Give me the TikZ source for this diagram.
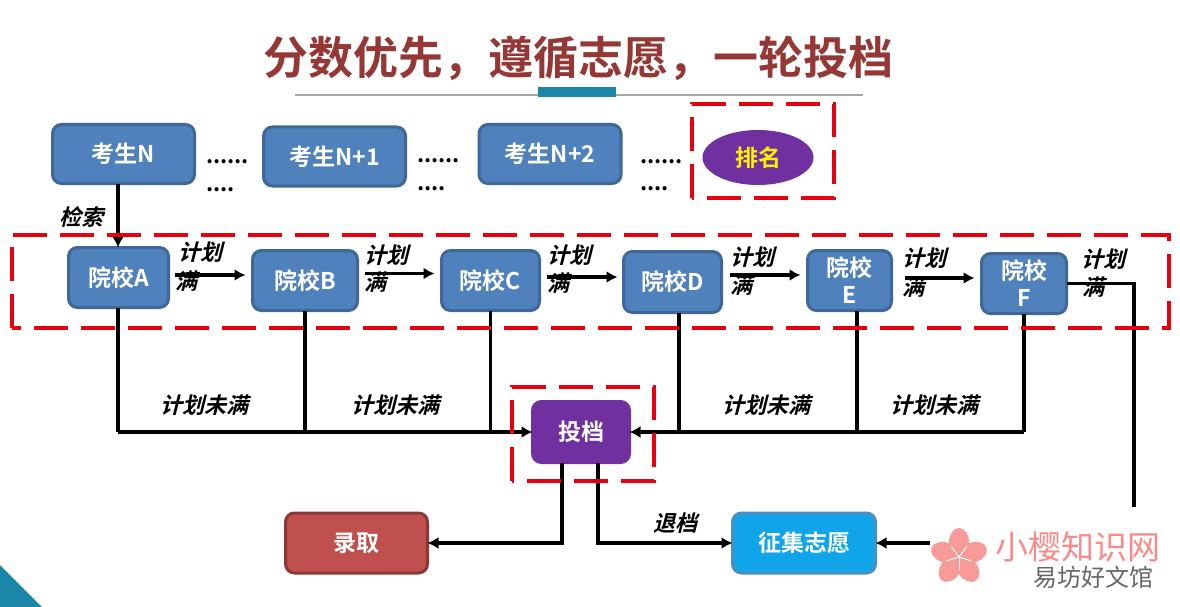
\documentclass[tikz,border=0pt]{standalone}
\usepackage{fontspec}
\newfontfamily\cjk{Noto Sans CJK SC}[BoldFont=* Bold]
\newfontfamily\cjkit{Noto Sans CJK SC}[BoldFont=* Bold,FakeSlant=0.25]
\usepackage{xcolor}
\usepackage{tikz}
\usetikzlibrary{positioning,shapes,arrows.meta}
\definecolor{titlered}{HTML}{953735}
\definecolor{boxblue}{HTML}{4F81BD}
\definecolor{boxedge}{HTML}{3F6797}
\definecolor{boxpurple}{HTML}{7030A0}
\definecolor{boxred}{HTML}{C0504D}
\definecolor{rededge}{HTML}{8C3836}
\definecolor{boxcyan}{HTML}{0FA5E8}
\definecolor{cyanedge}{HTML}{4A8FC4}
\definecolor{teal}{HTML}{1A87A8}
\definecolor{dashred}{HTML}{E8000F}
\definecolor{petal}{HTML}{F79A98}
\tikzset{
    blockbox/.style={draw=boxedge,fill=boxblue,line width=3pt,rounded corners=9pt,inner sep=0pt,outer sep=0pt,
        align=center,text=white,font=\cjk\bfseries\fontsize{23}{27}\selectfont},
    flow/.style={black,line width=3.6pt,-{Latex[length=11pt,width=12pt]}},
    wire/.style={black,line width=3.6pt},
    note/.style={inner sep=0pt,text=black,font=\cjkit\bfseries\fontsize{22}{24}\selectfont},
    more/.style={inner sep=0pt,anchor=base west,text=black,font=\cjk\bfseries\fontsize{22}{24}\selectfont},
    redbox/.style={dashred,line width=4pt,dash pattern=on 34pt off 13pt}
}
\begin{document}
\begin{tikzpicture}[x=1pt,y=-1pt]
    \useasboundingbox (0,0) rectangle (1180,607);
    \fill[teal] (0,565) -- (42,607) -- (0,607) -- cycle;
    % title
    \node[inner sep=0pt,text=titlered,font=\cjk\bfseries\fontsize{45}{50}\selectfont] (title) at (578,58) {分数优先，遵循志愿，一轮投档};
    \draw[gray!70,line width=2pt] (295,95) -- (863,95);
    \fill[teal] (538,87) rectangle (616,97);
    % row 1
    \node[blockbox,minimum width=142pt,minimum height=59pt] (examN) at (123.5,154) {考生N};
    \node[blockbox,minimum width=142pt,minimum height=59pt] (examNa) at (334.5,156.5) {考生N+1};
    \node[blockbox,minimum width=142pt,minimum height=59pt] (examNb) at (550,154) {考生N+2};
    \node[ellipse,fill=boxpurple,inner sep=0pt,minimum width=111pt,minimum height=55pt,text=yellow,font=\cjk\bfseries\fontsize{23}{24}\selectfont] (rank) at (758,157.5) {排名};
    \node[more] (dotsa) at (206,163) {......};
    \node[more] (dotsb) at (206,191) {....};
    \node[more] (dotsc) at (417,162) {......};
    \node[more] (dotsd) at (417,190) {....};
    \node[more] (dotse) at (640,163) {......};
    \node[more] (dotsf) at (640,190) {....};
    % row 2
    \node[blockbox,minimum width=100pt,minimum height=60pt] (schoolA) at (118.5,277.5) {院校A};
    \node[blockbox,minimum width=105pt,minimum height=60pt] (schoolB) at (305,280.5) {院校B};
    \node[blockbox,minimum width=98pt,minimum height=60pt] (schoolC) at (490.5,280.5) {院校C};
    \node[blockbox,minimum width=98pt,minimum height=61pt] (schoolD) at (672.5,282) {院校D};
    \node[blockbox,minimum width=84pt,minimum height=60pt] (schoolE) at (849.5,280.5) {院校\\E};
    \node[blockbox,minimum width=85pt,minimum height=60pt] (schoolF) at (1024,283.5) {院校\\F};
    % bottom
    \node[blockbox,draw=boxpurple,fill=boxpurple,minimum width=97pt,minimum height=61pt] (toudang) at (581,432) {投档};
    \node[blockbox,draw=rededge,fill=boxred,minimum width=142pt,minimum height=60pt] (luqu) at (356.5,543) {录取};
    \node[blockbox,draw=cyanedge,fill=boxcyan,minimum width=143pt,minimum height=60pt] (zhengji) at (804,543) {征集志愿};
    % free ends
    \coordinate (ab) at (175,275);
    \coordinate (bc) at (365,273.5);
    \coordinate (cd) at (547,277);
    \coordinate (de) at (730,275);
    \coordinate (ef) at (905,278);
    \coordinate (cut) at (1134,507);
    \coordinate (petalend) at (930,543);
    \coordinate (leftjoin) at (118,432);
    \coordinate (rightjoin) at (1024,432);
    \coordinate (outa) at (562,543);
    \coordinate (outb) at (598,543);
    % connectors
    \draw[flow] (118,184) -- (schoolA.north -| 118,0);
    \draw[flow,shorten >=7pt] (ab) -- (ab -| schoolB.west);
    \draw[flow,shorten >=7pt] (bc) -- (bc -| schoolC.west);
    \draw[flow,shorten >=6pt] (cd) -- (cd -| schoolD.west);
    \draw[flow,shorten >=7pt] (de) -- (de -| schoolE.west);
    \draw[flow,shorten >=7pt] (ef) -- (ef -| schoolF.west);
    \draw[wire] (schoolF.east) -- (cut |- schoolF.east) -- (cut);
    \draw[wire] (schoolA.south -| leftjoin) -- (leftjoin);
    \draw[wire] (schoolB.south) -- (schoolB.south |- leftjoin);
    \draw[wire] (schoolC.south) -- (schoolC.south |- leftjoin);
    \draw[wire] (schoolD.south -| 679,0) -- (679,432);
    \draw[wire] (schoolE.south -| 857,0) -- (857,432);
    \draw[wire] (schoolF.south) -- (rightjoin);
    \draw[flow] (leftjoin) -- (toudang.west);
    \draw[flow] (rightjoin) -- (toudang.east);
    \draw[flow] (toudang.south -| outa) -- (outa) -- (luqu.east);
    \draw[flow] (toudang.south -| outb) -- (outb) -- (zhengji.west);
    \draw[flow] (petalend) -- (zhengji.east);
    % labels
    \node[note] (search) at (81,217) {检索};
    \node[note] (planA) at (200,252) {计划};
    \node[note] (fullA) at (186,281) {满};
    \node[note] (planB) at (386,255) {计划};
    \node[note] (fullB) at (375,282) {满};
    \node[note] (planC) at (569,255) {计划};
    \node[note] (fullC) at (558,283) {满};
    \node[note] (planD) at (752,257) {计划};
    \node[note] (fullD) at (741,285) {满};
    \node[note] (planE) at (924,258) {计划};
    \node[note] (fullE) at (913,287) {满};
    \node[note] (planF) at (1103,259) {计划};
    \node[note] (fullF) at (1093,287) {满};
    \node[note] (openA) at (204,405) {计划未满};
    \node[note] (openB) at (395,405) {计划未满};
    \node[note] (openC) at (766,405) {计划未满};
    \node[note] (openD) at (934,405) {计划未满};
    \node[note] (back) at (675,523) {退档};
    % red frames
    \draw[redbox] (692,198) -- (692,104) -- (834,104) -- (834,198) -- cycle;
    \draw[redbox] (12,328) -- (12,235) -- (1169,235) -- (1169,328) -- cycle;
    \draw[redbox] (512,481) -- (512,387) -- (654,387) -- (654,481) -- cycle;
    % watermark
    \foreach \a in {90,162,234,306,18}
        \fill[petal,rotate around={\a:(959,557)}] (974,557) ellipse[x radius=14,y radius=10];
    \foreach \a in {90,162,234,306,18}
        \draw[white,line width=1pt] (959,557) -- ++(\a:13);
    \node[inner sep=0pt,text=petal!90!red,font=\cjk\fontsize{33}{36}\selectfont] (sakura) at (1078,547) {小樱知识网};
    \node[inner sep=0pt,text=black!60,font=\cjk\fontsize{24}{26}\selectfont] (site) at (1093,577) {易坊好文馆};
\end{tikzpicture}
\end{document}
